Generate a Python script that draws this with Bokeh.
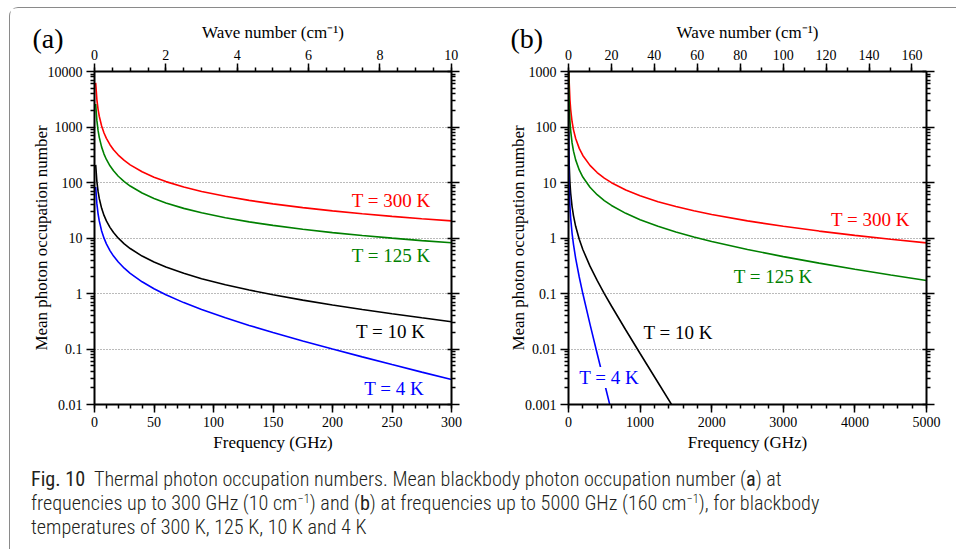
from bokeh.plotting import figure
from bokeh.models import Range1d, LinearAxis, LogAxis, FixedTicker, Label, Div
from bokeh.layouts import row, column
from bokeh.embed import file_html
from bokeh.resources import INLINE

# ---------------- data ----------------
# Panel (a): frequency (GHz) and mean photon occupation number
freq_a = [1, 2, 3, 4, 6, 8, 10, 13, 16, 20, 25, 30, 40, 50, 60, 75, 90, 110,
          130, 150, 175, 200, 225, 250, 275, 300]
n300_a = [6250, 3125, 2083, 1562, 1041, 781, 625, 480.3, 390.2, 312.1, 249.5,
          207.9, 155.8, 124.5, 103.7, 82.85, 68.96, 56.33, 47.58, 41.17, 35.22,
          30.76, 27.28, 24.50, 22.23, 20.34]
n125_a = [2604, 1302, 868, 651, 434, 325, 260, 199.9, 162.3, 129.7, 103.7,
          86.3, 64.6, 51.6, 42.9, 34.2, 28.4, 23.2, 19.5, 16.9, 14.4, 12.5,
          11.1, 9.93, 8.98, 8.19]
n10_a = [207.9, 103.7, 68.97, 51.6, 34.24, 25.55, 20.34, 15.54, 12.53, 9.93,
         7.845, 6.458, 4.725, 3.687, 2.997, 2.308, 1.851, 1.438, 1.155, 0.9486,
         0.7599, 0.6207, 0.5144, 0.4312, 0.3647, 0.3106]
n4_a = [82.85, 41.17, 27.28, 20.34, 13.40, 9.93, 7.845, 5.924, 4.725, 3.687,
        2.858, 2.308, 1.624, 1.2165, 0.9486, 0.6853, 0.5144, 0.3647, 0.2661,
        0.1981, 0.1396, 0.0998, 0.0721, 0.0524, 0.0383, 0.0281]

# Panel (b)
freq_b = [1, 2, 5, 10, 20, 30, 50, 70, 100, 150, 200, 300, 400, 500, 600, 800,
          1000, 1250, 1500, 1750, 2000, 2500, 3000, 3500, 4000, 4500, 5000]
n300_b = [6250, 3125, 1250, 625, 312.1, 207.9, 124.5, 88.80, 62.01, 41.17,
          30.76, 20.34, 15.13, 12.01, 9.93, 7.32, 5.764, 4.517, 3.687, 3.095,
          2.652, 2.034, 1.624, 1.3325, 1.1157, 0.9486, 0.8163]
n125_b = [2604, 1302, 520.4, 260.0, 129.7, 86.3, 51.6, 36.71, 25.55, 16.87,
          12.53, 8.19, 6.025, 4.725, 3.861, 2.782, 2.137, 1.624, 1.284, 1.044,
          0.8657, 0.6207, 0.4622, 0.3530, 0.2744, 0.2161, 0.1719]
freq_b_cold = [1, 2, 5, 10, 20, 30, 50, 70, 100, 150, 200, 300, 400, 500, 600,
               800, 1000, 1250, 1500, 1750]
n10_b = [207.9, 103.7, 41.17, 20.34, 9.93, 6.458, 3.687, 2.505, 1.624, 0.9486,
         0.6207, 0.3106, 0.1719, 0.0998, 0.0595, 0.02199, 0.00830, 0.002487,
         0.000747, 0.000225]
n4_b = [82.85, 41.17, 16.17, 7.845, 3.687, 2.308, 1.2165, 0.7599, 0.4312,
        0.1981, 0.0998, 0.0281, 0.00831, 0.002486, 0.000747, 0.0000677,
        0.00000615, 3.06e-7, 1.53e-8, 7.6e-10]

# axis ranges and ticks
freq_max_a, wn_max_a = 300, 10.007
freq_max_b, wn_max_b = 5000, 166.78
freq_ticks_a = [0, 50, 100, 150, 200, 250, 300]
freq_minor_a = list(range(0, 301, 10))
wn_ticks_a = [0, 2, 4, 6, 8, 10]
wn_minor_a = [i * 0.5 for i in range(0, 21)]
freq_ticks_b = [0, 1000, 2000, 3000, 4000, 5000]
freq_minor_b = list(range(0, 5001, 200))
wn_ticks_b = [0, 20, 40, 60, 80, 100, 120, 140, 160]
wn_minor_b = list(range(0, 161, 10))
y_exp_a = (-2, 4)
y_exp_b = (-3, 3)

SERIF = "Liberation Serif"
RED, GREEN, BLUE, BLACK = "#ff0000", "#008000", "#0000ff", "#000000"
H = 450


def decade_ticks(lo, hi):
    major = [10.0 ** k for k in range(lo, hi + 1)]
    minor = [m * 10.0 ** k for k in range(lo, hi) for m in range(2, 10)]
    return major, minor


def style_axis(ax, labels=True):
    ax.axis_line_width = 2
    ax.axis_line_color = "black"
    ax.major_tick_line_width = 1.5
    ax.minor_tick_line_width = 1.5
    ax.major_tick_in = 0
    ax.major_tick_out = 8
    ax.minor_tick_in = 0
    ax.minor_tick_out = 4
    ax.major_label_text_font = SERIF
    ax.major_label_text_color = "black"
    ax.major_label_standoff = 4
    if labels:
        ax.major_label_text_font_size = "14px"
    else:
        ax.major_label_text_font_size = "2px"
        ax.major_label_text_alpha = 0
        ax.major_label_standoff = 0
    ax.axis_label_text_font = SERIF
    ax.axis_label_text_font_size = "17px"
    ax.axis_label_text_font_style = "normal"
    ax.axis_label_text_color = "black"


def make_panel(width, mb_left, mb_right, mb_top, mb_bottom, fmax, wnmax, yexp,
               fticks, fminor, wticks, wminor):
    ymaj, ymin = decade_ticks(*yexp)
    p = figure(width=width, height=H, x_range=Range1d(0, fmax),
               y_range=Range1d(ymaj[0], ymaj[-1]), y_axis_type="log",
               output_backend="svg", toolbar_location=None,
               min_border_left=mb_left, min_border_right=mb_right,
               min_border_top=mb_top, min_border_bottom=mb_bottom)
    p.outline_line_color = None
    p.background_fill_color = "white"
    p.border_fill_color = "white"
    p.xgrid.visible = False
    p.ygrid.ticker = FixedTicker(ticks=ymaj)
    p.ygrid.grid_line_color = "#777777"
    p.ygrid.grid_line_dash = "1 2"
    p.ygrid.grid_line_width = 1

    overrides = {v: ("%g" % v) for v in ymaj}
    left = p.yaxis[0]
    left.ticker = FixedTicker(ticks=ymaj, minor_ticks=ymin)
    left.major_label_overrides = overrides
    left.axis_label = "Mean photon occupation number"
    style_axis(left)
    left.axis_label_standoff = -6

    bottom = p.xaxis[0]
    bottom.ticker = FixedTicker(ticks=fticks, minor_ticks=fminor)
    bottom.axis_label = "Frequency (GHz)"
    style_axis(bottom)
    bottom.axis_label_standoff = 3

    p.extra_x_ranges = {"wn": Range1d(0, wnmax)}
    top = LinearAxis(x_range_name="wn", ticker=FixedTicker(ticks=wticks, minor_ticks=wminor),
                     axis_label="Wave number (cm\u207b\u00b9)")
    style_axis(top)
    top.axis_label_standoff = 5
    p.add_layout(top, "above")

    right = LogAxis(ticker=FixedTicker(ticks=ymaj, minor_ticks=ymin))
    style_axis(right, labels=False)
    right.major_tick_in = 4
    p.add_layout(right, "right")
    return p


pa = make_panel(468, 84, 27, 63, 53, freq_max_a, wn_max_a, y_exp_a,
                freq_ticks_a, freq_minor_a, wn_ticks_a, wn_minor_a)
pb = make_panel(477, 90, 29, 63, 54, freq_max_b, wn_max_b, y_exp_b,
                freq_ticks_b, freq_minor_b, wn_ticks_b, wn_minor_b)

for p, curves in (
    (pa, [(freq_a, n300_a, RED), (freq_a, n125_a, GREEN),
          (freq_a, n10_a, BLACK), (freq_a, n4_a, BLUE)]),
    (pb, [(freq_b, n300_b, RED), (freq_b, n125_b, GREEN),
          (freq_b_cold, n10_b, BLACK), (freq_b_cold, n4_b, BLUE)]),
):
    for xs, ys, c in curves:
        p.line(xs, ys, line_color=c, line_width=1.6)


def tlabel(p, x, y, text, color, align="right", bg=None):
    lab = Label(x=x, y=y, text=text, text_align=align, text_baseline="middle",
                text_color=color, text_font=SERIF, text_font_size="19px")
    if bg:
        lab.background_fill_color = bg
    p.add_layout(lab)


tlabel(pa, 282.4, 48.2, "T = 300 K", RED)
tlabel(pa, 282.4, 4.81, "T = 125 K", GREEN)
tlabel(pa, 278, 0.205, "T = 10 K", BLACK)
tlabel(pa, 277, 0.0194, "T = 4 K", BLUE)

tlabel(pb, 4767, 2.14, "T = 300 K", RED)
tlabel(pb, 3408, 0.204, "T = 125 K", GREEN)
tlabel(pb, 1047, 0.0198, "T = 10 K", BLACK, align="left")
tlabel(pb, 149, 0.00306, "T = 4 K", BLUE, align="left", bg="white")

# panel letters, overlaid on the figures' top-left corners
panel_letters = ["(a)", "(b)"]
letters_html = (
    '<div style="position: relative; width: 940px; height: 40px; '
    'font-family: \'Liberation Serif\', serif; font-size: 28px; line-height: 28px; color: black;">'
    '<span style="position: absolute; left: 17.5px; top: 11.5px;">' + panel_letters[0] + '</span>'
    '<span style="position: absolute; left: 495.5px; top: 11.5px;">' + panel_letters[1] + '</span>'
    '</div>'
)
letters = Div(text=letters_html, width=940, height=40,
              styles={"position": "absolute", "left": "0px", "top": "0px", "z-index": "10"})

sup = '<sup style="font-size: 0.62em; line-height: 0; vertical-align: 0.55em;">\u22121</sup>'
caption_html = (
    '<div style="font-family: \'Liberation Sans Narrow\', \'Roboto Condensed\', \'Open Sans\', sans-serif;'
    ' font-size: 20.2px; line-height: 24px; color: #231f20; padding-left: 16px; padding-top: 3.5px;'
    ' white-space: nowrap; font-weight: 300;">'
    '<b>Fig. 10</b>&nbsp; Thermal photon occupation numbers. Mean blackbody photon occupation number (<b>a</b>) at<br>'
    'frequencies up to 300 GHz (10 cm' + sup + ') and (<b>b</b>) at frequencies up to 5000 GHz '
    '(160 cm' + sup + '), for blackbody<br>'
    'temperatures of 300 K, 125 K, 10 K and 4 K</div>'
)
cap = Div(text=caption_html, width=940, height=85)

layout = column(row(pa, pb), cap, letters, margin=(7, 0, 0, 9),
                styles={"border-left": "1.5px solid #8a8a8a",
                        "border-top": "1.5px solid #8a8a8a",
                        "border-top-left-radius": "9px",
                        "position": "relative"})

open("out.html", "w").write(file_html(layout, INLINE))
